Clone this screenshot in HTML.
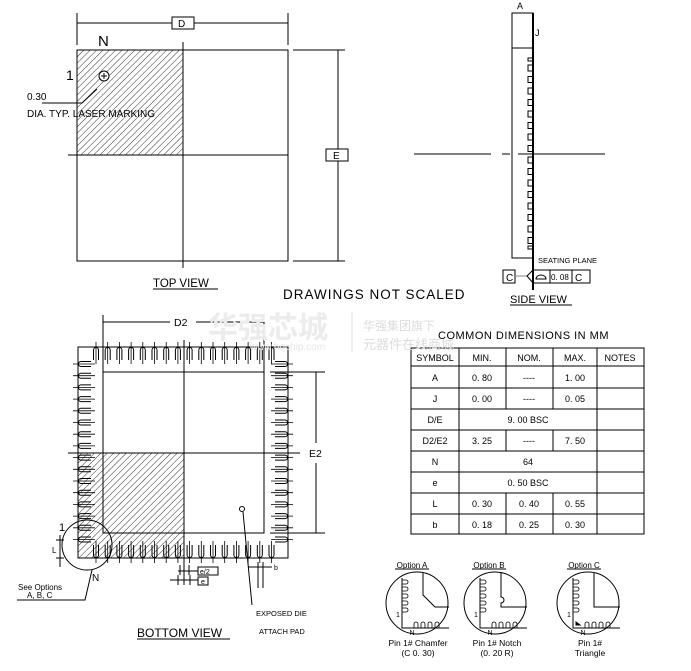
<!DOCTYPE html>
<html><head><meta charset="utf-8"><style>
body{margin:0;background:#fff}
svg{display:block}
text{font-family:"Liberation Sans","Noto Sans CJK SC",sans-serif;fill:#000}
</style></head><body>
<svg width="691" height="671" viewBox="0 0 691 671" xmlns="http://www.w3.org/2000/svg">
<defs>
<pattern id="h" width="4.5" height="4.5" patternUnits="userSpaceOnUse" patternTransform="rotate(45)">
<line x1="0" y1="0" x2="0" y2="4.5" stroke="#000" stroke-width="0.8"/>
</pattern>
<g id="pv"><path d="M-2.5,13 V3 A2.5,2.5 0 0 1 2.5,3 V13" fill="none" stroke="#000" stroke-width="1"/><line x1="0" y1="-5" x2="0" y2="17" stroke="#000" stroke-width="0.8"/></g>
<g id="ph"><path d="M13,-2.5 H3 A2.5,2.5 0 0 0 3,2.5 H13" fill="none" stroke="#000" stroke-width="1"/><line x1="-5" y1="0" x2="17" y2="0" stroke="#000" stroke-width="0.8"/></g>
</defs>
<g stroke="#000" fill="none" stroke-width="1">
<rect x="77" y="50" width="106" height="105" fill="url(#h)" stroke="none"/>
<rect x="77" y="50" width="211" height="211"/>
<line x1="183" y1="42" x2="183" y2="268"/>
<line x1="68" y1="155" x2="288" y2="155"/>
<line x1="77" y1="13" x2="77" y2="45"/><line x1="288" y1="13" x2="288" y2="45"/>
<line x1="77" y1="23" x2="172" y2="23"/><line x1="194" y1="23" x2="288" y2="23"/>
<rect x="172" y="17" width="22" height="12" fill="#fff"/>
<line x1="293" y1="50" x2="345" y2="50"/><line x1="293" y1="261" x2="345" y2="261"/>
<line x1="338" y1="50" x2="338" y2="149"/><line x1="338" y1="161" x2="338" y2="261"/>
<rect x="326" y="149" width="22" height="12" fill="#fff"/>
<circle cx="104" cy="76" r="5" fill="#fff"/>
<line x1="104" y1="73" x2="104" y2="79"/><line x1="101" y1="76" x2="107" y2="76"/>
<line x1="42" y1="103" x2="82" y2="103"/><line x1="82" y1="103" x2="97" y2="89"/>
<line x1="153" y1="289" x2="218" y2="289"/>
<rect x="512" y="13" width="21" height="245"/>
<line x1="512" y1="48" x2="533" y2="48"/>
<line x1="533" y1="13" x2="533" y2="290" stroke-width="2"/>
<line x1="414" y1="154" x2="491" y2="154"/><line x1="502" y1="154" x2="510" y2="154"/><line x1="518" y1="154" x2="605" y2="154"/>
<rect x="528" y="58" width="5" height="3"/>
<rect x="528" y="65" width="5" height="6"/><rect x="528" y="76.5" width="5" height="6"/><rect x="528" y="88" width="5" height="6"/><rect x="528" y="99.5" width="5" height="6"/><rect x="528" y="111" width="5" height="6"/><rect x="528" y="122.5" width="5" height="6"/><rect x="528" y="134" width="5" height="6"/><rect x="528" y="145.5" width="5" height="6"/><rect x="528" y="157" width="5" height="6"/><rect x="528" y="168.5" width="5" height="6"/><rect x="528" y="180" width="5" height="6"/><rect x="528" y="191.5" width="5" height="6"/><rect x="528" y="203" width="5" height="6"/><rect x="528" y="214.5" width="5" height="6"/><rect x="528" y="226" width="5" height="6"/><rect x="528" y="237.5" width="5" height="6"/>
<rect x="528" y="246" width="5" height="3"/>
<rect x="503" y="270" width="12" height="13"/>
<line x1="515" y1="276" x2="527" y2="276" stroke="#888"/>
<path d="M533,270 L527,276 L533,283"/>
<rect x="533" y="270" width="57" height="13"/><line x1="550" y1="270" x2="550" y2="283"/><line x1="572" y1="270" x2="572" y2="283"/>
<path d="M536,279 A5,4 0 0 1 546,279 Z"/>
<line x1="510" y1="305" x2="572" y2="305"/>
<rect x="78" y="453" width="106" height="105" fill="url(#h)" stroke="none"/>
<rect x="78" y="347" width="210" height="211"/>
<rect x="103" y="372" width="161" height="161"/>
<line x1="184" y1="340" x2="184" y2="570"/>
<line x1="68" y1="453" x2="300" y2="453"/>
<line x1="103" y1="315" x2="103" y2="372"/><line x1="264" y1="315" x2="264" y2="372"/>
<line x1="103" y1="322" x2="170" y2="322"/><line x1="196" y1="322" x2="264" y2="322"/>
<line x1="270" y1="372" x2="325" y2="372"/><line x1="270" y1="533" x2="325" y2="533"/>
<line x1="316" y1="372" x2="316" y2="443"/><line x1="316" y1="463" x2="316" y2="533"/>
<circle cx="87" cy="545" r="25"/>
<path d="M17,600 H85 L92,570"/>
<line x1="60" y1="535" x2="60" y2="567"/>
<line x1="56" y1="540" x2="64" y2="540"/><line x1="56" y1="558" x2="64" y2="558"/>
<circle cx="242" cy="509" r="2.5"/>
<line x1="243" y1="512" x2="252" y2="605"/>
<line x1="178" y1="571" x2="198" y2="571"/><line x1="180" y1="565" x2="180" y2="575"/><line x1="184" y1="563" x2="184" y2="585"/><line x1="189" y1="565" x2="189" y2="575"/>
<line x1="170" y1="580" x2="198" y2="580"/><line x1="178" y1="575" x2="178" y2="585"/><line x1="190" y1="575" x2="190" y2="585"/>
<rect x="198" y="567" width="20" height="8"/><rect x="198" y="577" width="10" height="8"/>
<line x1="248" y1="567" x2="272" y2="567"/><line x1="258" y1="562" x2="258" y2="588"/><line x1="263" y1="562" x2="263" y2="588"/>
<line x1="137" y1="639" x2="230" y2="639"/>
<rect x="411" y="348" width="233" height="186"/>
<line x1="411" y1="366" x2="644" y2="366"/><line x1="411" y1="388" x2="644" y2="388"/><line x1="411" y1="409" x2="644" y2="409"/><line x1="411" y1="430" x2="644" y2="430"/><line x1="411" y1="451" x2="644" y2="451"/><line x1="411" y1="472" x2="644" y2="472"/><line x1="411" y1="493" x2="644" y2="493"/><line x1="411" y1="514" x2="644" y2="514"/>
<line x1="459" y1="348" x2="459" y2="534"/><line x1="597" y1="348" x2="597" y2="534"/>
<line x1="506" y1="348" x2="506" y2="409"/><line x1="553" y1="348" x2="553" y2="409"/>
<line x1="506" y1="430" x2="506" y2="451"/><line x1="553" y1="430" x2="553" y2="451"/>
<line x1="506" y1="493" x2="506" y2="534"/><line x1="553" y1="493" x2="553" y2="534"/>
<circle cx="417" cy="603" r="31"/><circle cx="495" cy="603" r="31"/><circle cx="588" cy="603" r="31"/>
<path d="M402,578 V628 H449"/><path d="M423,573 V595 L435,607 H449"/>
<path d="M480,578 V628 H527"/><path d="M501,573 V597 A3,3 0 0 1 501,603 V607 H527"/>
<path d="M573,578 V628 H620"/><path d="M594,573 V607 H620"/>
<path d="M576,622 L580,625 L576,625 Z" fill="#000"/>
<line x1="395" y1="569" x2="429" y2="569"/><line x1="472" y1="569" x2="506" y2="569"/><line x1="567" y1="569" x2="601" y2="569"/>
</g>
<g id="mini" stroke="#000" fill="none" stroke-width="0.8">
<path d="M402,580 h4 a2,2 0 0 1 0,4 h-4 M402,587 h4 a2,2 0 0 1 0,4 h-4 M402,594 h4 a2,2 0 0 1 0,4 h-4 M402,601 h4 a2,2 0 0 1 0,4 h-4 M402,608 h4 a2,2 0 0 1 0,4 h-4"/>
<path d="M414,628 v-4 a2,2 0 0 1 4,0 v4 M421,628 v-4 a2,2 0 0 1 4,0 v4 M428,628 v-4 a2,2 0 0 1 4,0 v4 M435,628 v-4 a2,2 0 0 1 4,0 v4"/>
</g>
<use href="#mini" x="78"/><use href="#mini" x="171"/>
<g>
<use href="#pv" x="96" y="347"/><use href="#pv" x="107.7" y="347"/><use href="#pv" x="119.4" y="347"/><use href="#pv" x="131.1" y="347"/><use href="#pv" x="142.8" y="347"/><use href="#pv" x="154.5" y="347"/><use href="#pv" x="166.2" y="347"/><use href="#pv" x="177.9" y="347"/><use href="#pv" x="189.6" y="347"/><use href="#pv" x="201.3" y="347"/><use href="#pv" x="213" y="347"/><use href="#pv" x="224.7" y="347"/><use href="#pv" x="236.4" y="347"/><use href="#pv" x="248.1" y="347"/><use href="#pv" x="259.8" y="347"/><use href="#pv" x="271.5" y="347"/>
</g>
<g transform="translate(0,905) scale(1,-1)">
<use href="#pv" x="96" y="347"/><use href="#pv" x="107.7" y="347"/><use href="#pv" x="119.4" y="347"/><use href="#pv" x="131.1" y="347"/><use href="#pv" x="142.8" y="347"/><use href="#pv" x="154.5" y="347"/><use href="#pv" x="166.2" y="347"/><use href="#pv" x="177.9" y="347"/><use href="#pv" x="189.6" y="347"/><use href="#pv" x="201.3" y="347"/><use href="#pv" x="213" y="347"/><use href="#pv" x="224.7" y="347"/><use href="#pv" x="236.4" y="347"/><use href="#pv" x="248.1" y="347"/><use href="#pv" x="259.8" y="347"/><use href="#pv" x="271.5" y="347"/>
</g>
<g>
<use href="#ph" x="78" y="364"/><use href="#ph" x="78" y="375.7"/><use href="#ph" x="78" y="387.4"/><use href="#ph" x="78" y="399.1"/><use href="#ph" x="78" y="410.8"/><use href="#ph" x="78" y="422.5"/><use href="#ph" x="78" y="434.2"/><use href="#ph" x="78" y="445.9"/><use href="#ph" x="78" y="457.6"/><use href="#ph" x="78" y="469.3"/><use href="#ph" x="78" y="481"/><use href="#ph" x="78" y="492.7"/><use href="#ph" x="78" y="504.4"/><use href="#ph" x="78" y="516.1"/><use href="#ph" x="78" y="527.8"/><use href="#ph" x="78" y="539.5"/>
</g>
<g transform="translate(366,0) scale(-1,1)">
<use href="#ph" x="78" y="364"/><use href="#ph" x="78" y="375.7"/><use href="#ph" x="78" y="387.4"/><use href="#ph" x="78" y="399.1"/><use href="#ph" x="78" y="410.8"/><use href="#ph" x="78" y="422.5"/><use href="#ph" x="78" y="434.2"/><use href="#ph" x="78" y="445.9"/><use href="#ph" x="78" y="457.6"/><use href="#ph" x="78" y="469.3"/><use href="#ph" x="78" y="481"/><use href="#ph" x="78" y="492.7"/><use href="#ph" x="78" y="504.4"/><use href="#ph" x="78" y="516.1"/><use href="#ph" x="78" y="527.8"/><use href="#ph" x="78" y="539.5"/>
</g>
<text x="208" y="338" font-size="30" font-weight="bold" style="fill:#ececec">华强芯城</text>
<text x="250" y="350" font-size="10" style="fill:#e6e6e6">www.hqchip.com</text>
<line x1="352" y1="312" x2="352" y2="352" stroke="#e0e0e0"/>
<text x="363" y="330" font-size="12" style="fill:#dcdcdc">华强集团旗下</text>
<text x="363" y="349" font-size="13" style="fill:#dcdcdc">元器件在线商城</text>
<g font-size="10">
<text x="178" y="27">D</text>
<text x="333" y="159">E</text>
<text x="98" y="46" font-size="15">N</text>
<text x="66" y="80" font-size="14">1</text>
<text x="27" y="100" font-size="10">0.30</text>
<text x="27" y="117" font-size="10">DIA. TYP. LASER MARKING</text>
<text x="153" y="287" font-size="11.5">TOP VIEW</text>
<text x="283" y="299" font-size="13.5" letter-spacing="1">DRAWINGS NOT SCALED</text>
<text x="517" y="9" font-size="9">A</text>
<text x="535" y="36" font-size="9">J</text>
<text x="538" y="263" font-size="7.5">SEATING PLANE</text>
<text x="506" y="281" font-size="10">C</text>
<text x="551" y="280" font-size="8">0. 08</text>
<text x="575" y="281" font-size="10">C</text>
<text x="510" y="303" font-size="11">SIDE VIEW</text>
<text x="174" y="326" font-size="10.5">D2</text>
<text x="309" y="457" font-size="10.5">E2</text>
<text x="59" y="531" font-size="11">1</text>
<text x="52" y="553" font-size="8">L</text>
<text x="92" y="581" font-size="10">N</text>
<text x="18" y="590" font-size="8">See Options</text>
<text x="27" y="598" font-size="8">A, B, C</text>
<text x="200" y="574" font-size="7">e/2</text>
<text x="201" y="584" font-size="7">e</text>
<text x="274" y="570" font-size="7">b</text>
<text x="256" y="616" font-size="7.5">EXPOSED DIE</text>
<text x="259" y="634" font-size="7.5">ATTACH PAD</text>
<text x="137" y="637" font-size="12">BOTTOM VIEW</text>
<text x="438" y="339" font-size="11" letter-spacing="0.5">COMMON DIMENSIONS IN MM</text>
</g>
<g font-size="9" text-anchor="middle">
<text x="435" y="361">SYMBOL</text><text x="482" y="361">MIN.</text><text x="529" y="361">NOM.</text><text x="575" y="361">MAX.</text><text x="620" y="361">NOTES</text>
<text x="435" y="381">A</text><text x="482" y="381">0. 80</text><text x="529" y="381">----</text><text x="575" y="381">1. 00</text>
<text x="435" y="402">J</text><text x="482" y="402">0. 00</text><text x="529" y="402">----</text><text x="575" y="402">0. 05</text>
<text x="435" y="423">D/E</text><text x="528" y="423">9. 00   BSC</text>
<text x="435" y="444">D2/E2</text><text x="482" y="444">3. 25</text><text x="529" y="444">----</text><text x="575" y="444">7. 50</text>
<text x="435" y="465">N</text><text x="528" y="465">64</text>
<text x="435" y="486">e</text><text x="528" y="486">0. 50   BSC</text>
<text x="435" y="507">L</text><text x="482" y="507">0. 30</text><text x="529" y="507">0. 40</text><text x="575" y="507">0. 55</text>
<text x="435" y="528">b</text><text x="482" y="528">0. 18</text><text x="529" y="528">0. 25</text><text x="575" y="528">0. 30</text>
<text x="412" y="568" font-size="8">Option A</text><text x="489" y="568" font-size="8">Option B</text><text x="584" y="568" font-size="8">Option C</text>
<text x="418" y="646" font-size="8.5">Pin 1# Chamfer</text><text x="418" y="656" font-size="8.5">(C 0. 30)</text>
<text x="497" y="646" font-size="8.5">Pin 1# Notch</text><text x="497" y="656" font-size="8.5">(0. 20 R)</text>
<text x="590" y="646" font-size="8.5">Pin 1#</text><text x="590" y="656" font-size="8.5">Triangle</text>
<text x="398" y="617" font-size="7">1</text><text x="476" y="617" font-size="7">1</text><text x="569" y="617" font-size="7">1</text>
<text x="412" y="635" font-size="7">N</text><text x="490" y="635" font-size="7">N</text><text x="583" y="635" font-size="7">N</text>
</g>
</svg>
</body></html>
